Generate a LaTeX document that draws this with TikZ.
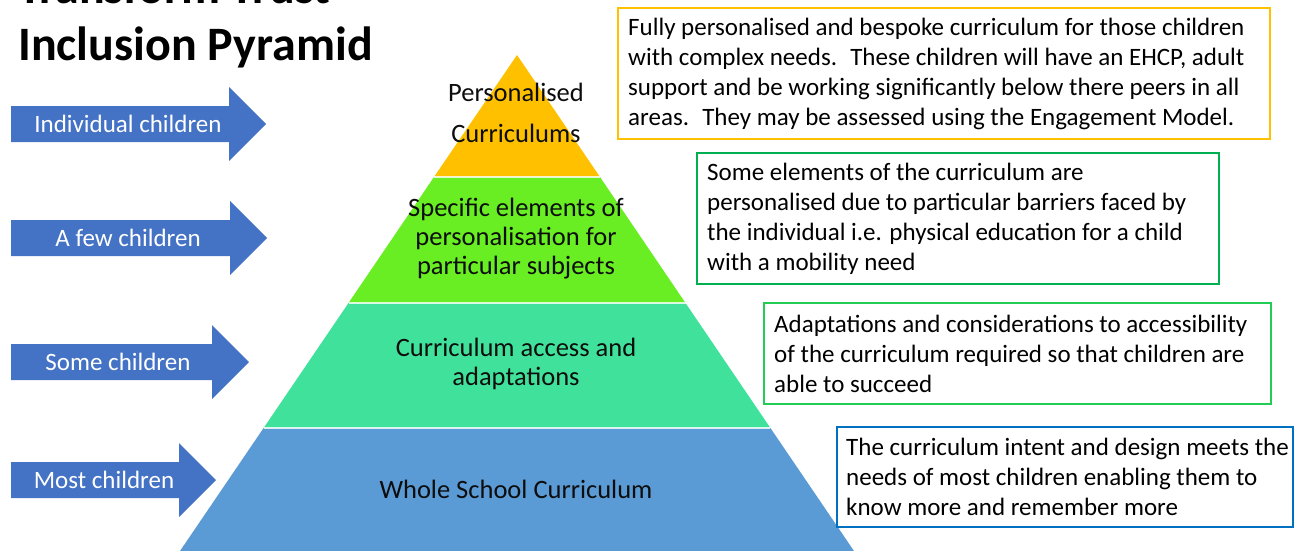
\documentclass[tikz,border=0pt]{standalone}
\usepackage{fontspec}
\setmainfont{Carlito}
\usetikzlibrary{positioning}

\definecolor{arrowblue}{HTML}{4472C4}
\definecolor{tiergold}{HTML}{FFC000}
\definecolor{tierlime}{HTML}{68EE22}
\definecolor{tierteal}{HTML}{40E29B}
\definecolor{tierblue}{HTML}{5B9BD5}
\definecolor{notegreen}{HTML}{00B050}
\definecolor{notemint}{HTML}{22CC55}
\definecolor{noteblue}{HTML}{0070C0}

\begin{document}
\begin{tikzpicture}[x=1pt, y=-1pt,
    bodytext/.style={font=\fontsize{25}{30}\selectfont, inner sep=0pt},
    tiertext/.style={inner sep=0pt, align=center, text=black!95},
    titletext/.style={font=\fontsize{48}{57}\selectfont\bfseries, inner sep=0pt, anchor=base west},
    notebox/.style={draw=#1, line width=2pt, inner sep=0pt, anchor=north west},
    tierline/.style={white, line width=1.5pt, opacity=0.8}]
    \useasboundingbox (0,0) rectangle (1294,551);

    \node[titletext] (title1) at (18,4) {Transform Trust};
    \node[titletext] (title2) at (18,61) {Inclusion Pyramid};

    \foreach \name/\ypos/\tip/\xlab/\lab in {ind/124/266/128/Individual children,
        few/238/267/128/A few children, some/362/249/118/Some children,
        most/480/216/104/Most children} {
      \fill[arrowblue] (11,\ypos-18) -- (\tip-37,\ypos-18) -- (\tip-37,\ypos-37) -- (\tip,\ypos)
        -- (\tip-37,\ypos+37) -- (\tip-37,\ypos+18) -- (11,\ypos+18) -- cycle;
      \node[bodytext, text=white] (\name) at (\xlab,\ypos) {\lab};
    }

    \fill[tiergold] (517,55) -- (600,177) -- (434,177) -- cycle;
    \fill[tierlime] (434,177) -- (600,177) -- (685.5,303) -- (348.5,303) -- cycle;
    \fill[tierteal] (348.5,303) -- (685.5,303) -- (770.4,428) -- (263.6,428) -- cycle;
    \fill[tierblue] (263.6,428) -- (770.4,428) -- (854,551) -- (180,551) -- cycle;
    \draw[tierline] (434,177) -- (600,177);
    \draw[tierline] (348.5,303) -- (685.5,303);
    \draw[tierline] (263.6,428) -- (770.4,428);

    \node[tiertext, font=\fontsize{26.5}{41}\selectfont] (tier1) at (516,113) {Personalised\\Curriculums};
    \node[tiertext, font=\fontsize{26.5}{29}\selectfont] (tier2) at (516,239) {Specific elements of\\personalisation for\\particular subjects};
    \node[tiertext, font=\fontsize{26.5}{29}\selectfont] (tier3) at (516,364) {Curriculum access and\\adaptations};
    \node[tiertext, font=\fontsize{26.5}{29}\selectfont] (tier4) at (516,489) {Whole School Curriculum};

    \node[notebox=tiergold, minimum width=652, minimum height=131] (note1) at (617,7) {};
    \node[bodytext, align=left, anchor=west] (text1) at ([xshift=11]note1.west)
      {Fully personalised and bespoke curriculum for those children\\
       with complex needs.~ These children will have an EHCP, adult\\
       support and be working significantly below there peers in all\\
       areas.~ They may be assessed using the Engagement Model.};

    \node[notebox=notegreen, minimum width=522, minimum height=131] (note2) at (696,152) {};
    \node[bodytext, align=left, anchor=west] (text2) at ([xshift=11]note2.west)
      {Some elements of the curriculum are\\
       personalised due to particular barriers faced by\\
       the individual i.e. physical education for a child\\
       with a mobility need};

    \node[notebox=notemint, minimum width=507, minimum height=101] (note3) at (763,302) {};
    \node[bodytext, align=left, anchor=west] (text3) at ([xshift=11]note3.west)
      {Adaptations and considerations to accessibility\\
       of the curriculum required so that children are\\
       able to succeed};

    \node[notebox=noteblue, minimum width=456, minimum height=100] (note4) at (836,426) {};
    \node[bodytext, align=left, anchor=west] (text4) at ([xshift=10]note4.west)
      {The curriculum intent and design meets the\\
       needs of most children enabling them to\\
       know more and remember more};
\end{tikzpicture}
\end{document}
